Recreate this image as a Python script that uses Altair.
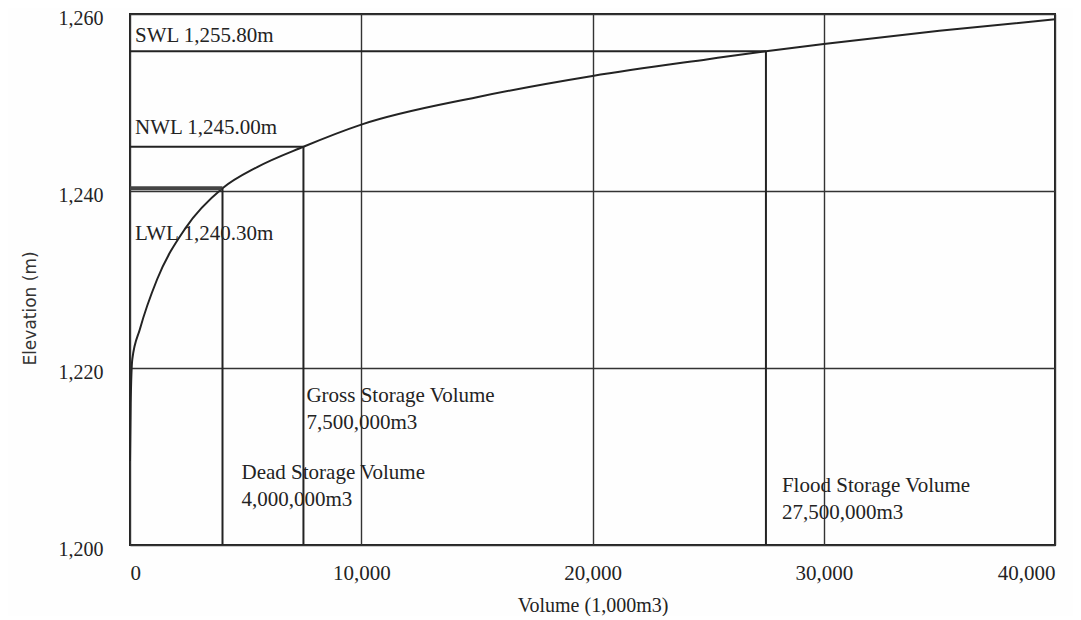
import altair as alt
import pandas as pd

# Storage curve (volume in 1,000 m3, elevation in m)
volume = [0, 30, 100, 430, 1170, 2400, 4000, 5500, 7500, 10000, 15000, 20000,
          25000, 27500, 30000, 35000, 40000]
elevation = [1209.5, 1216.0, 1221.0, 1224.4, 1230.0, 1235.8, 1240.3, 1242.7,
             1245.0, 1247.5, 1250.6, 1253.0, 1254.9, 1255.8, 1256.6, 1258.1, 1259.4]

# Water levels
level_names = ["SWL", "NWL", "LWL"]
level_labels = ["SWL 1,255.80m", "NWL 1,245.00m", "LWL 1,240.30m"]
level_elev = [1255.8, 1245.0, 1240.3]
level_vol = [27500, 7500, 4000]

# Storage annotations
storage_titles = ["Gross Storage Volume", "Dead Storage Volume", "Flood Storage Volume"]
storage_values = ["7,500,000m3", "4,000,000m3", "27,500,000m3"]
storage_vol = [7500, 4000, 27500]

x_ticks = [0, 10000, 20000, 30000, 40000]
y_ticks = [1200, 1220, 1240, 1260]

INK = "#232323"
SERIF = "Liberation Serif"

curve_df = pd.DataFrame({"volume": volume, "elevation": elevation})
levels_df = pd.DataFrame({"name": level_names, "label": level_labels,
                          "elevation": level_elev, "volume": level_vol})
storage_df = pd.DataFrame({"title": storage_titles, "value": storage_values,
                           "volume": storage_vol})

xscale = alt.Scale(domain=[0, 40000], nice=False, zero=False)
yscale = alt.Scale(domain=[1200, 1260], nice=False, zero=False)

xax = alt.Axis(values=x_ticks, format=",d", title="Volume (1,000m3)",
               grid=True, domain=False, ticks=False,
               labelFont=SERIF, labelFontSize=21, labelColor=INK, labelPadding=17,
               titleFont=SERIF, titleFontSize=20, titleFontWeight="normal",
               titleColor=INK, titleY=60, titleBaseline="middle")
yax = alt.Axis(values=y_ticks, format=",d", title="Elevation (m)",
               grid=True, domain=False, ticks=False,
               labelFont=SERIF, labelFontSize=20, labelColor=INK, labelPadding=27,
               labelOffset=4,
               titleFont="DejaVu Sans", titleFontSize=17, titleFontWeight="normal",
               titleColor="#333333", titleX=-100, titleY=294,
               titleBaseline="middle", titleAlign="center")

base_curve = alt.Chart(curve_df).mark_line(
    interpolate="monotone", color=INK, strokeWidth=2
).encode(
    x=alt.X("volume:Q", scale=xscale, axis=xax),
    y=alt.Y("elevation:Q", scale=yscale, axis=yax),
)

lv = alt.Chart(levels_df)

h_rules = lv.transform_filter(alt.datum.name != "LWL").transform_calculate(
    x0="0"
).mark_rule(color=INK, strokeWidth=2).encode(
    x=alt.X("x0:Q", scale=xscale), x2="volume:Q",
    y=alt.Y("elevation:Q", scale=yscale),
)
lwl_rule = lv.transform_filter(alt.datum.name == "LWL").transform_calculate(
    x0="0"
).mark_rule(color="#444444", strokeWidth=4).encode(
    x=alt.X("x0:Q", scale=xscale), x2="volume:Q",
    y=alt.Y("elevation:Q", scale=yscale),
)
v_rules = lv.transform_calculate(y0="1200").mark_rule(
    color=INK, strokeWidth=2
).encode(
    x=alt.X("volume:Q", scale=xscale),
    y=alt.Y("y0:Q", scale=yscale), y2="elevation:Q",
)

layers = [base_curve, h_rules, lwl_rule, v_rules]

level_dy = {"SWL": -9, "NWL": -13, "LWL": 52}
for nm in level_names:
    layers.append(
        lv.transform_filter(alt.datum.name == nm).transform_calculate(x0="0")
        .mark_text(font=SERIF, fontSize=21, color=INK, align="left",
                   baseline="alphabetic", dx=5, dy=level_dy[nm])
        .encode(x=alt.X("x0:Q", scale=xscale),
                y=alt.Y("elevation:Q", scale=yscale), text="label:N")
    )

storage_offsets = {"Gross Storage Volume": (3, -143),
                   "Dead Storage Volume": (19, -66),
                   "Flood Storage Volume": (16, -53)}
for t in storage_titles:
    dx, dy = storage_offsets[t]
    layers.append(
        alt.Chart(storage_df).transform_filter(alt.datum.title == t)
        .transform_calculate(y0="1200", txt="[datum.title, datum.value]")
        .mark_text(font=SERIF, fontSize=21, color=INK, align="left",
                   baseline="alphabetic", lineHeight=27, dx=dx, dy=dy)
        .encode(x=alt.X("volume:Q", scale=xscale),
                y=alt.Y("y0:Q", scale=yscale), text="txt:N")
    )

chart = alt.layer(*layers).properties(
    width=925, height=531,
    autosize=alt.AutoSizeParams(type="none"),
    padding={"left": 122, "top": 6, "right": 18, "bottom": 71},
    background="#fefefe",
).configure_view(
    stroke=INK, strokeWidth=2
).configure_axis(
    gridColor="#333333", gridWidth=1.4, gridOpacity=1
)

chart.save("out.html", embed_options={"renderer": "svg", "actions": False})
